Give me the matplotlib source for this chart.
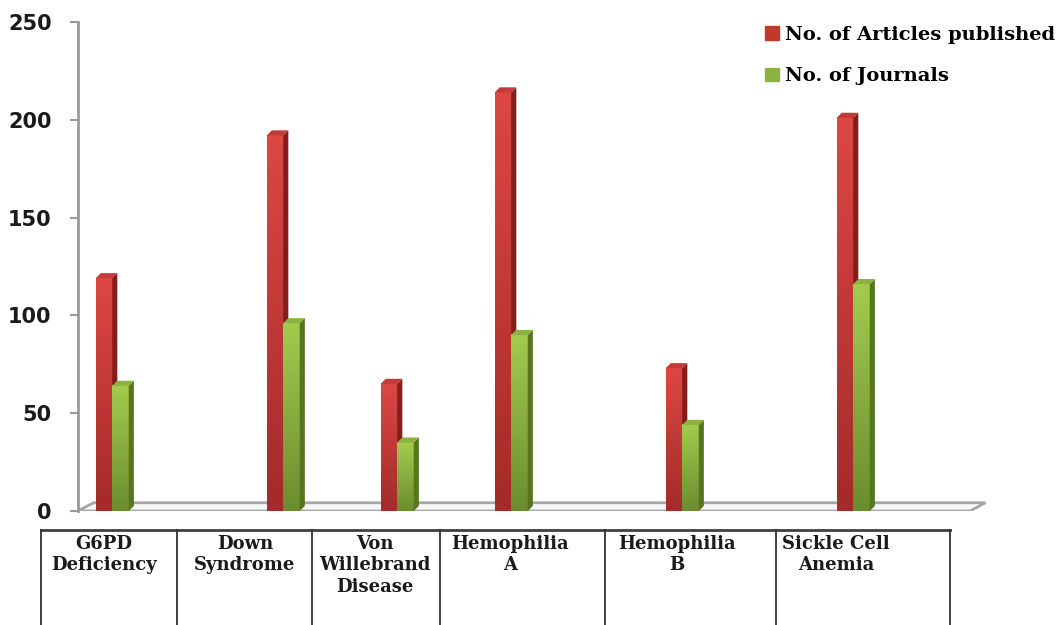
"""Articles published and journals per genetic blood disorder (3-D style bar chart)."""

import numpy as np
import matplotlib
matplotlib.use('Agg')
from matplotlib import pyplot
from matplotlib.patches import Polygon, Patch
from matplotlib.lines import Line2D
from matplotlib.colors import LinearSegmentedColormap

# data
categories = ['G6PD\nDeficiency', 'Down\nSyndrome', 'Von\nWillebrand\nDisease',
              'Hemophilia\nA', 'Hemophilia\nB', 'Sickle Cell\nAnemia']
articles = [119, 192, 65, 214, 73, 201]
journals = [64, 96, 35, 90, 44, 116]
series_names = ['No. of Articles published', 'No. of Journals']
yticks = [0, 50, 100, 150, 200, 250]

# layout (pixels of the 1062x625 figure, category slots on the x axis)
W, H = 1062, 625
slots = [0, 3, 5, 7, 10, 13]
col_edges = [41, 177, 312, 440, 605, 776, 950]
label_x = [104, 245, 375, 510, 677, 836]
bar_w = 0.29
dx, dy = 0.09, 2.6

red = dict(front=('#dc4744', '#a32b29'), side='#861d1c', top='#c43a38', flat='#c0392b')
green = dict(front=('#a2cb4e', '#6c8d2e'), side='#56751f', top='#8cb23f', flat='#8ab43f')


def fx(px):
    return px / W


def fy(py):
    return 1 - py / H


def draw_bar3d(ax, x0, h, style, z):
    ax.bar(x0, h, width=bar_w, align='edge', color=style['flat'], zorder=z)
    cmap = LinearSegmentedColormap.from_list('g', [style['front'][1], style['front'][0]])
    grad = np.linspace(0, 1, 64).reshape(-1, 1)
    ax.imshow(grad, extent=[x0, x0 + bar_w, 0, h], origin='lower', aspect='auto',
              cmap=cmap, zorder=z + 0.1)
    x1 = x0 + bar_w
    ax.add_patch(Polygon([(x1, 0), (x1 + dx, dy), (x1 + dx, h + dy), (x1, h)],
                         closed=True, color=style['side'], lw=0, zorder=z + 0.2))
    ax.add_patch(Polygon([(x0, h), (x0 + dx, h + dy), (x1 + dx, h + dy), (x1, h)],
                         closed=True, color=style['top'], lw=0, zorder=z + 0.2))


pyplot.rc('font', family='DejaVu Serif', weight='bold')
fig = pyplot.figure(figsize=(W / 100, H / 100), dpi=100)
ax = fig.add_axes([fx(78), fy(511), (990 - 78) / W, (511 - 22) / H])

# floor
ax.add_patch(Polygon([(0, 0), (15.65, 0), (15.92, 4.2), (0.27, 4.2)], closed=True,
                     facecolor='#f8f8f8', edgecolor='#a6a6a6', lw=2, zorder=1))

for i, s in enumerate(slots):
    c = s + 0.6
    draw_bar3d(ax, c - bar_w, articles[i], red, z=3 + i)
    draw_bar3d(ax, c, journals[i], green, z=3.5 + i)

ax.set_xlim(0, 16)
ax.set_ylim(0, 250)
ax.set_xticks([])
ax.set_yticks(yticks)
ax.set_yticklabels([str(v) for v in yticks], family='DejaVu Sans', weight='bold',
                   fontsize=15, color='#1a1a1a')
ax.tick_params(axis='y', direction='out', length=6, width=1.5, color='#999999', pad=13)
for side in ['top', 'right', 'bottom']:
    ax.spines[side].set_visible(False)
ax.spines['left'].set_color('#999999')
ax.spines['left'].set_linewidth(2)
ax.patch.set_alpha(0)

# legend
handles = [Patch(color=red['flat']), Patch(color=green['flat'])]
fig.legend(handles, series_names, loc='upper left',
           bbox_to_anchor=(fx(765), fy(26)), frameon=False, fontsize=14,
           handlelength=0.7, handleheight=0.7, handletextpad=0.35,
           labelspacing=1.2, borderpad=0, borderaxespad=0)

# category table underneath
fig.add_artist(Line2D([fx(col_edges[0]), fx(col_edges[-1])], [fy(530), fy(530)],
                      color='#404040', lw=2))
for e in col_edges:
    fig.add_artist(Line2D([fx(e), fx(e)], [fy(530), fy(625)], color='#303030', lw=1.3))
for name, x in zip(categories, label_x):
    fig.text(fx(x), fy(535), name, ha='center', va='top', fontsize=13,
             color='#1a1a1a', linespacing=1.25)

fig.savefig('out.png', dpi=100)
